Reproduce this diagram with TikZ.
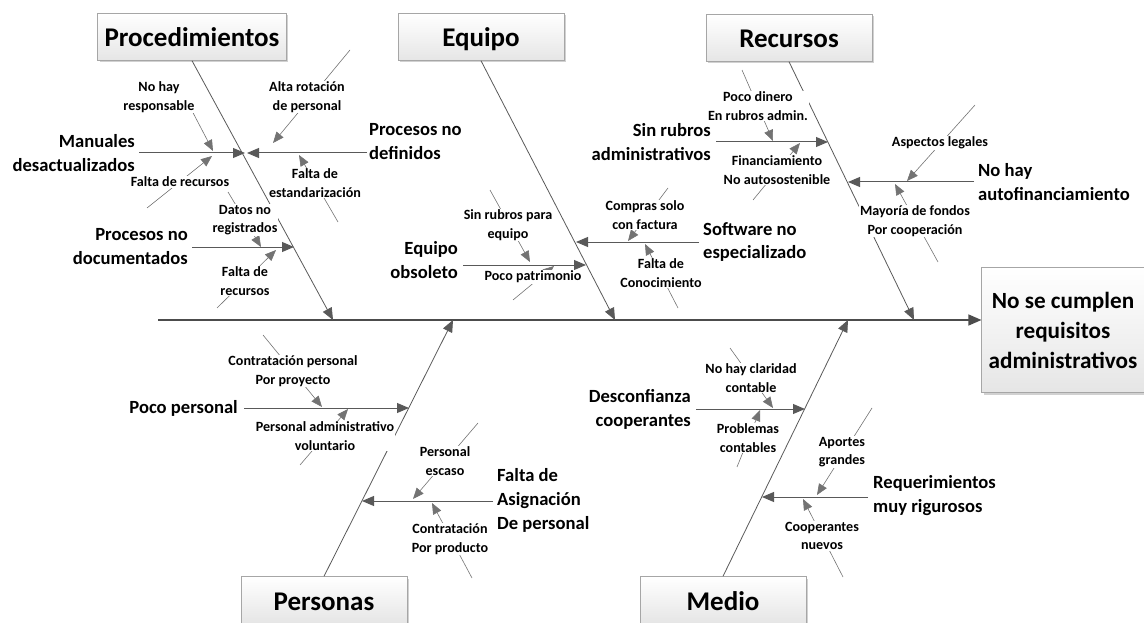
\documentclass[tikz,border=0pt]{standalone}
\usepackage{fontspec}
\setmainfont{Carlito}
\usetikzlibrary{arrows.meta,shadows,positioning}

\begin{document}
\begin{tikzpicture}[x=1pt,y=-1pt]
\tikzstyle{every node}+=[inner sep=2pt]
\tikzstyle{catbox}=[draw=gray!70, top color=white, bottom color=gray!20, minimum width=166pt, minimum height=47pt, inner xsep=7pt, text height=23pt, text depth=3pt, font=\bfseries\fontsize{27}{32}\selectfont, drop shadow={shadow xshift=2pt, shadow yshift=-2pt, fill=gray!60, opacity=0.6}]
\tikzstyle{effbox}=[catbox, minimum width=162pt, minimum height=125pt, align=center, text height=, text depth=, font=\bfseries\fontsize{23.2}{30}\selectfont]
\tikzstyle{cause}=[font=\bfseries\fontsize{18.6}{24}\selectfont]
\tikzstyle{note}=[font=\bfseries\fontsize{14.1}{18.5}\selectfont, align=center, fill=white, inner sep=1pt]
\tikzstyle{spine}=[draw=black!70, line width=1.3pt, -{Triangle[length=13pt,width=11pt]}]
\tikzstyle{bone}=[draw=black!65, line width=0.8pt, -{Triangle[length=12pt,width=10pt]}]
\tikzstyle{branch}=[draw=black!65, line width=1pt, -{Triangle[length=12pt,width=10pt]}]
\tikzstyle{sub}=[draw=black!55, line width=0.6pt, -{Triangle[length=11pt,width=9pt]}]
\useasboundingbox (0,0) rectangle (1144,623);

\node[catbox] (proc) at (192,37) {Procedimientos};
\node[catbox] (equ) at (481,37) {Equipo};
\node[catbox] (rec) at (789,38) {Recursos};
\node[catbox] (pers) at (324,600) {Personas};
\node[catbox] (med) at (723,600) {Medio};
\node[effbox] (eff) at (1063,330) {No se cumplen\\requisitos\\administrativos};

\coordinate (tail) at (158,320);
\draw[spine] (tail) -- (tail -| eff.west);

\coordinate (procT) at (333,320);
\coordinate (equT) at (615,320);
\coordinate (recT) at (914,320);
\coordinate (persT) at (453,320);
\coordinate (medT) at (848,320);
\draw[bone] (proc.south) -- (procT);
\draw[bone] (equ.south) -- (equT);
\draw[bone] (rec.south) -- (recT);
\draw[bone] (pers.north) -- (persT);
\draw[bone] (med.north) -- (medT);

\node[cause, anchor=east, align=right] (manu) at (137,153) {Manuales\\desactualizados};
\coordinate (manuT) at (245,153);
\draw[branch] ([xshift=2pt]manu.east) -- (manuT);
\node[cause, anchor=west, align=left] (pdef) at (367,142) {Procesos no\\definidos};
\coordinate (pdefT) at (247,153);
\draw[branch] (pdef.west |- pdefT) -- (pdefT);
\node[cause, anchor=east, align=right] (pdoc) at (190,247) {Procesos no\\documentados};
\coordinate (pdocT) at (294,247);
\draw[branch] ([xshift=2pt]pdoc.east) -- (pdocT);

\coordinate (nhrA) at (178,84);
\coordinate (nhrB) at (213,151);
\draw[sub] (nhrA) -- (nhrB);
\node[note] (nhr) at (159,97) {No hay\\responsable};
\coordinate (fdraA) at (147,208);
\coordinate (fdraB) at (212,156);
\draw[sub] (fdraA) -- (fdraB);
\node[note] (fdra) at (180,182) {Falta de recursos};
\coordinate (arpA) at (350,50);
\coordinate (arpB) at (273,143);
\draw[sub] (arpA) -- (arpB);
\node[note] (arp) at (307,97) {Alta rotación\\de personal};
\coordinate (fdeA) at (338,222);
\coordinate (fdeB) at (299,155);
\draw[sub] (fdeA) -- (fdeB);
\node[note] (fde) at (315,183) {Falta de\\estandarización};
\coordinate (dnrA) at (228,192);
\coordinate (dnrB) at (261,247);
\draw[sub] (dnrA) -- (dnrB);
\node[note] (dnr) at (245,220) {Datos no\\registrados};
\coordinate (fdrbA) at (217,308);
\coordinate (fdrbB) at (276,250);
\draw[sub] (fdrbA) -- (fdrbB);
\node[note] (fdrb) at (245,281) {Falta de\\recursos};

\node[cause, anchor=east, align=right] (eobs) at (460,260) {Equipo\\obsoleto};
\coordinate (eobsT) at (586,265);
\draw[branch] ([xshift=3pt]eobs.east |- eobsT) -- (eobsT);
\node[cause, anchor=west, align=left] (soft) at (701,242) {Software no\\especializado};
\coordinate (softT) at (576,242);
\draw[branch] ([xshift=-2pt]soft.west) -- (softT);

\coordinate (srpeA) at (490,190);
\coordinate (srpeB) at (530,262);
\draw[sub] (srpeA) -- (srpeB);
\node[note] (srpe) at (508,225) {Sin rubros para\\equipo};
\coordinate (ppA) at (513,300);
\coordinate (ppB) at (554,266);
\draw[sub] (ppA) -- (ppB);
\node[note] (pp) at (533,277) {Poco patrimonio};
\coordinate (csfA) at (668,188);
\coordinate (csfB) at (628,241);
\draw[sub] (csfA) -- (csfB);
\node[note] (csf) at (645,215) {Compras solo\\con factura};
\coordinate (fdcA) at (678,308);
\coordinate (fdcB) at (645,244);
\draw[sub] (fdcA) -- (fdcB);
\node[note] (fdc) at (661,273) {Falta de\\Conocimiento};

\node[cause, anchor=east, align=right] (srub) at (713,142) {Sin rubros\\administrativos};
\coordinate (srubT) at (828,142);
\draw[branch] ([xshift=3pt]srub.east) -- (srubT);
\node[cause, anchor=west, align=left] (nhaf) at (976,182) {No hay\\autofinanciamiento};
\coordinate (nhafT) at (848,182);
\draw[branch] ([xshift=-2pt]nhaf.west) -- (nhafT);

\coordinate (pdraA) at (742,70);
\coordinate (pdraB) at (773,141);
\draw[sub] (pdraA) -- (pdraB);
\node[note] (pdra) at (758,106) {Poco dinero\\En rubros admin.};
\coordinate (fnaA) at (753,200);
\coordinate (fnaB) at (800,143);
\draw[sub] (fnaA) -- (fnaB);
\node[note] (fna) at (777,170) {Financiamiento\\No autosostenible};
\coordinate (alA) at (975,105);
\coordinate (alB) at (907,181);
\draw[sub] (alA) -- (alB);
\node[note] (al) at (940,143) {Aspectos legales};
\coordinate (mfcA) at (938,262);
\coordinate (mfcB) at (895,184);
\draw[sub] (mfcA) -- (mfcB);
\node[note] (mfc) at (915,221) {Mayoría de fondos\\Por cooperación};

\node[cause, anchor=east] (pper) at (240,408) {Poco personal};
\coordinate (pperT) at (409,408);
\draw[branch] ([xshift=4pt]pper.east) -- (pperT);
\node[cause, anchor=west, align=left] (fap) at (495,500) {Falta de\\Asignación\\De personal};
\coordinate (fapT) at (362,501);
\draw[branch] ([xshift=-2pt]fap.west |- fapT) -- (fapT);

\coordinate (cppA) at (263,335);
\coordinate (cppB) at (322,407);
\draw[sub] (cppA) -- (cppB);
\node[note] (cpp) at (293,371) {Contratación personal\\Por proyecto};
\coordinate (pavA) at (300,465);
\coordinate (pavB) at (348,409);
\draw[sub] (pavA) -- (pavB);
\node[note] (pav) at (325,436) {Personal administrativo\\voluntario};
\coordinate (peA) at (478,423);
\coordinate (peB) at (413,499);
\draw[sub] (peA) -- (peB);
\node[note] (pe) at (445,461) {Personal\\escaso};
\coordinate (cprA) at (472,578);
\coordinate (cprB) at (432,503);
\draw[sub] (cprA) -- (cprB);
\node[note] (cpr) at (450,539) {Contratación\\Por producto};

\node[cause, anchor=east, align=right] (desc) at (693,409) {Desconfianza\\cooperantes};
\coordinate (descT) at (805,409);
\draw[branch] ([xshift=3pt]desc.east) -- (descT);
\node[cause, anchor=west, align=left] (req) at (871,496) {Requerimientos\\muy rigurosos};
\coordinate (reqT) at (762,497);
\draw[branch] ([xshift=-3pt]req.west |- reqT) -- (reqT);

\coordinate (nhccA) at (730,348);
\coordinate (nhccB) at (773,408);
\draw[sub] (nhccA) -- (nhccB);
\node[note] (nhcc) at (751,378) {No hay claridad\\contable};
\coordinate (pcA) at (737,467);
\coordinate (pcB) at (760,410);
\draw[sub] (pcA) -- (pcB);
\node[note] (pc) at (748,438) {Problemas\\contables};
\coordinate (agA) at (872,408);
\coordinate (agB) at (817,495);
\draw[sub] (agA) -- (agB);
\node[note] (ag) at (842,452) {Aportes\\grandes};
\coordinate (cnA) at (843,577);
\coordinate (cnB) at (803,499);
\draw[sub] (cnA) -- (cnB);
\node[note] (cn) at (822,536) {Cooperantes\\nuevos};
\end{tikzpicture}
\end{document}
